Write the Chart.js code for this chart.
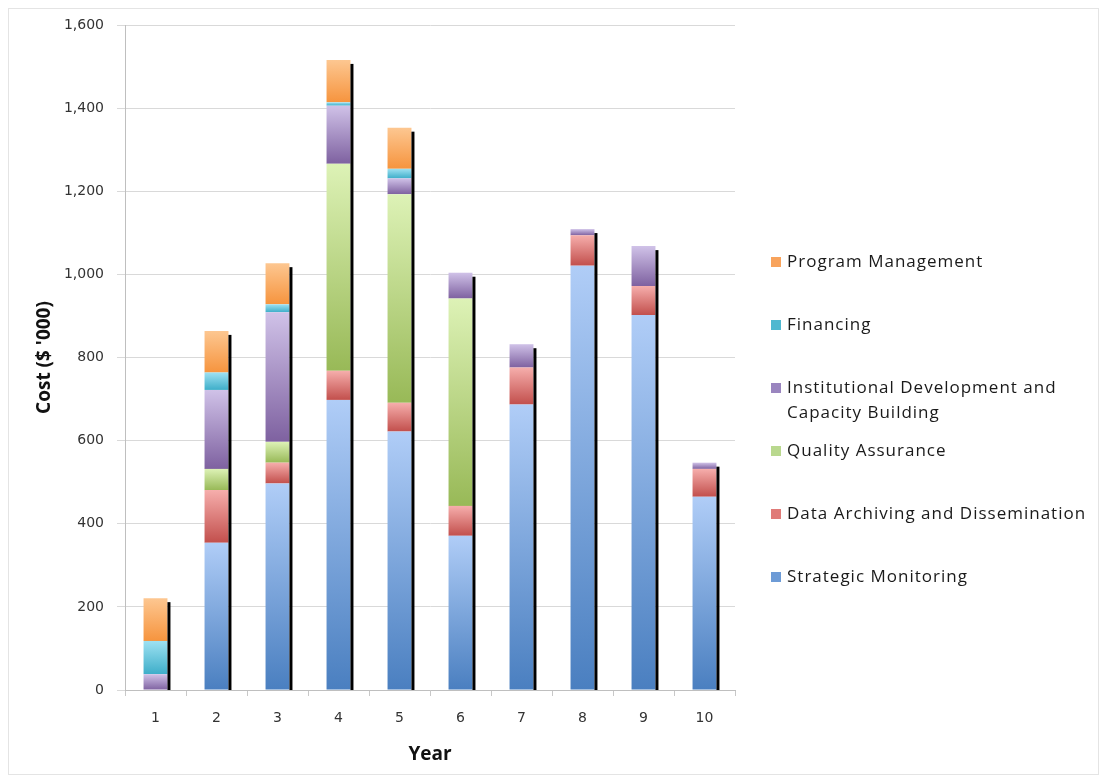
<!DOCTYPE html>
<html>
<head>
<meta charset="utf-8">
<script src="https://cdn.jsdelivr.net/npm/chart.js@4"></script>
<style>
  body { margin: 0; background: #fff; }
</style>
</head>
<body>
<canvas id="myChart" width="1107" height="782"></canvas>
<script>
const years = ['1', '2', '3', '4', '5', '6', '7', '8', '9', '10'];
const strategicMonitoring = [0, 354, 497, 698, 622, 371, 687, 1021, 902, 465];
const dataArchiving = [0, 127, 50, 70, 69, 72, 89, 73, 70, 67];
const qualityAssurance = [0, 51, 50, 498, 502, 499, 0, 0, 0, 0];
const institutionalDev = [38, 190, 312, 140, 38, 62, 56, 15, 96, 15];
const financing = [80, 42, 19, 8, 23, 0, 0, 0, 0, 0];
const programManagement = [103, 100, 99, 102, 99, 0, 0, 0, 0, 0];
const yTicks = [0, 200, 400, 600, 800, 1000, 1200, 1400, 1600];

// light (top) / dark (bottom) shades of each segment, plus legend swatch
const shades = [
    ['#b0cdf7', '#4a7fc0', '#6d9bd6'],
    ['#f6aeac', '#c24f4c', '#e07b78'],
    ['#ddf2b6', '#98b957', '#b9d88e'],
    ['#d0c2e8', '#7e61a0', '#9a85bf'],
    ['#9ee1f2', '#3eaec9', '#4fb8d0'],
    ['#fdc791', '#f6943e', '#f8a35c']
];

const seriesData = [strategicMonitoring, dataArchiving, qualityAssurance,
    institutionalDev, financing, programManagement];
const seriesNames = ['Strategic Monitoring', 'Data Archiving and Dissemination',
    'Quality Assurance', ['Institutional Development and', 'Capacity Building'],
    'Financing', 'Program Management'];

function segmentFill(ds) {
    return function (ctx) {
        if (ctx.type !== 'data') return shades[ds][2];
        const y = ctx.chart.scales.y;
        let below = 0;
        for (let k = 0; k < ds; k++) below += seriesData[k][ctx.dataIndex];
        const top = below + seriesData[ds][ctx.dataIndex];
        const y0 = y.getPixelForValue(top);
        const y1 = y.getPixelForValue(below);
        if (!isFinite(y0) || !isFinite(y1) || y0 === y1) return shades[ds][2];
        const g = ctx.chart.ctx.createLinearGradient(0, y0, 0, y1);
        g.addColorStop(0, shades[ds][0]);
        g.addColorStop(1, shades[ds][1]);
        return g;
    };
}

const frame = {
    id: 'frame',
    beforeDraw(chart) {
        const c = chart.ctx;
        c.save();
        c.fillStyle = '#fff';
        c.fillRect(0, 0, chart.width, chart.height);
        c.strokeStyle = '#e4e4e4';
        c.lineWidth = 1;
        c.strokeRect(8.5, 8.5, chart.width - 17, chart.height - 16);
        c.restore();
    }
};

const barShadow = {
    id: 'barShadow',
    afterDatasetsDraw(chart) {
        const c = chart.ctx;
        c.save();
        c.fillStyle = '#000';
        years.forEach((_, i) => {
            let topEl = null;
            for (let d = seriesData.length - 1; d >= 0; d--) {
                if (seriesData[d][i] > 0) { topEl = chart.getDatasetMeta(d).data[i]; break; }
            }
            if (!topEl) return;
            const base = chart.scales.y.getPixelForValue(0);
            const x = topEl.x + topEl.width / 2;
            c.fillRect(x, topEl.y + 4, 3, base - topEl.y - 4);
        });
        c.restore();
    }
};

const sideLegend = {
    id: 'sideLegend',
    afterDraw(chart) {
        const c = chart.ctx;
        const x = chart.chartArea.right + 36;
        const step = 63;
        let y = chart.chartArea.top + 237;
        c.save();
        c.font = '17px "Open Sans"';
        c.letterSpacing = '1px';
        c.textBaseline = 'middle';
        for (let d = seriesData.length - 1; d >= 0; d--) {
            c.fillStyle = shades[d][2];
            c.fillRect(x, y - 5, 10, 10);
            c.fillStyle = '#1a1a1a';
            const lines = [].concat(seriesNames[d]);
            lines.forEach((t, j) => c.fillText(t, x + 16, y + j * 25));
            y += step;
        }
        c.restore();
    }
};

new Chart(document.getElementById('myChart'), {
    type: 'bar',
    data: {
        labels: years,
        datasets: seriesData.map((values, d) => ({
            label: [].concat(seriesNames[d]).join(' '),
            data: values,
            backgroundColor: segmentFill(d),
            borderWidth: 0,
            categoryPercentage: 0.8,
            barPercentage: 0.49
        }))
    },
    options: {
        responsive: false,
        animation: false,
        layout: { padding: { left: 8, right: 372, top: 25, bottom: 12 } },
        plugins: {
            legend: { display: false },
            tooltip: { enabled: false }
        },
        scales: {
            x: {
                stacked: true,
                grid: { drawOnChartArea: false, drawTicks: true, tickLength: 6, color: '#c8c8c8', offset: true },
                border: { color: '#bfbfbf' },
                ticks: { color: '#333', padding: 14, font: { family: 'DejaVu Sans', size: 14 } },
                title: {
                    display: true,
                    text: 'Year',
                    color: '#111',
                    padding: { bottom: 4 },
                    font: { family: 'Open Sans', size: 19, weight: 'bold' }
                },
                afterFit: s => { s.height = 80; }
            },
            y: {
                stacked: true,
                min: 0,
                max: 1600,
                afterBuildTicks: s => { s.ticks = yTicks.map(v => ({ value: v })); },
                grid: { color: '#d9d9d9', tickLength: 8 },
                border: { color: '#bfbfbf' },
                ticks: {
                    color: '#333',
                    padding: 13,
                    font: { family: 'DejaVu Sans', size: 14 },
                    callback: v => v.toLocaleString('en-US')
                },
                title: {
                    display: true,
                    text: "Cost ($ '000)",
                    color: '#111',
                    padding: { top: 25 },
                    font: { family: 'Open Sans', size: 19, weight: 'bold' }
                },
                afterFit: s => { s.width = 117; }
            }
        }
    },
    plugins: [frame, barShadow, sideLegend]
});
</script>
</body>
</html>
